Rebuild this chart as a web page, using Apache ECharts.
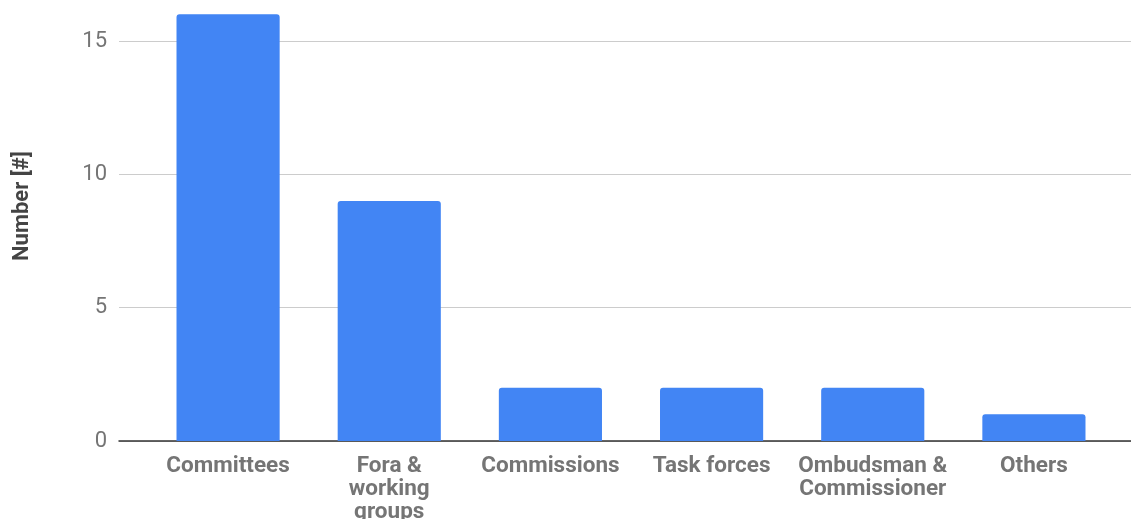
<!DOCTYPE html>
<html>
<head>
<meta charset="utf-8">
<script src="https://cdn.jsdelivr.net/npm/echarts@6/dist/echarts.min.js"></script>
<style>
html,body{margin:0;padding:0;background:#fff;}
#chart{width:1131px;height:519px;}
</style>
</head>
<body>
<div id="chart"></div>
<script>
const categories = ['Committees', 'Fora &\nworking\ngroups', 'Commissions', 'Task forces', 'Ombudsman &\nCommissioner', 'Others'];
const values = [16, 9, 2, 2, 2, 1];
const yTicks = { min: 0, max: 15, interval: 5 };
const yAxisTitle = 'Number [#]';

const chart = echarts.init(document.getElementById('chart'));
const font = 'Roboto, "Noto Sans", sans-serif';
chart.setOption({
  animation: false,
  grid: [
    { left: 119, right: 0, top: 41, bottom: 78, outerBoundsMode: 'none', containLabel: false },
    { left: 147.5, right: 16.5, top: 41, bottom: 78, outerBoundsMode: 'none', containLabel: false }
  ],
  xAxis: [
    {
      gridIndex: 0, type: 'value', min: 0, max: 1,
      axisLine: { show: true, lineStyle: { color: '#333', width: 1.5 } },
      axisTick: { show: false }, axisLabel: { show: false }, splitLine: { show: false }
    },
    {
      gridIndex: 1, type: 'category', data: categories,
      axisLine: { show: false }, axisTick: { show: false },
      axisLabel: {
        color: '#757575', fontFamily: font, fontWeight: 'bold', fontSize: 22.5,
        lineHeight: 23, margin: 14, interval: 0
      }
    }
  ],
  yAxis: [
    {
      gridIndex: 0, type: 'value', min: yTicks.min, max: yTicks.max, interval: yTicks.interval,
      axisLine: { show: false }, axisTick: { show: false },
      axisLabel: { color: '#757575', fontFamily: font, fontSize: 22, margin: 12 },
      splitLine: { lineStyle: { color: '#cccccc', width: 1 } }
    },
    {
      gridIndex: 1, type: 'value', min: yTicks.min, max: yTicks.max, interval: yTicks.interval,
      show: false, splitLine: { show: false }
    }
  ],
  graphic: [
    {
      type: 'text', x: 22, y: 206, rotation: Math.PI / 2,
      style: {
        text: yAxisTitle, fill: '#444', font: 'bold 22px ' + font,
        align: 'center', verticalAlign: 'middle'
      }
    }
  ],
  series: [
    {
      type: 'bar', xAxisIndex: 1, yAxisIndex: 1, data: values,
      barWidth: '64%', clip: false,
      itemStyle: { color: '#4285F4', borderRadius: [3, 3, 0, 0] },
      z: 1
    }
  ]
});
</script>
</body>
</html>
